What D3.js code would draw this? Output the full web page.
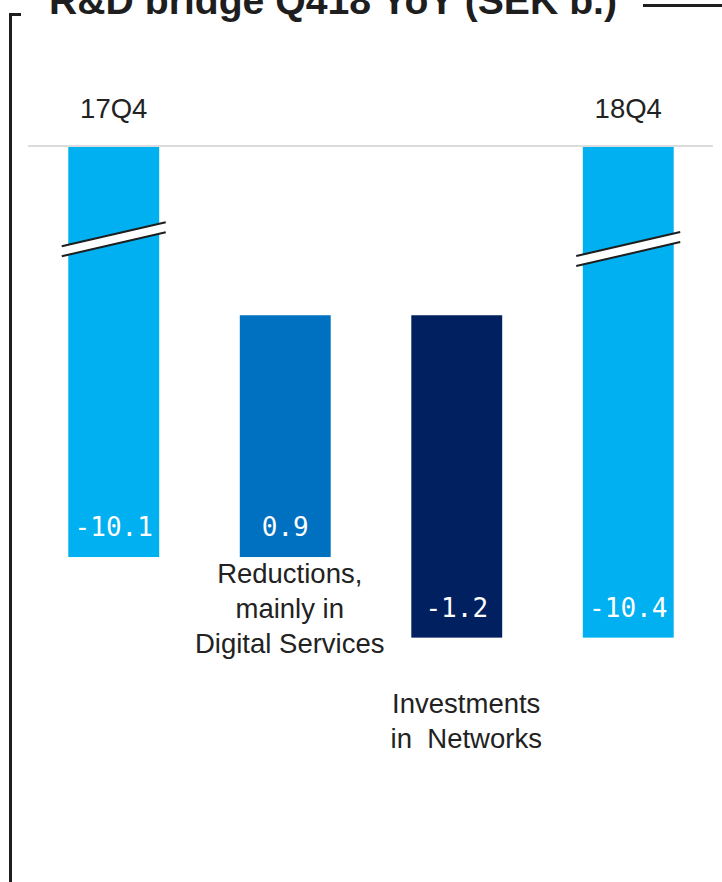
<!DOCTYPE html>
<html>
<head>
<meta charset="utf-8">
<script src="https://cdn.jsdelivr.net/npm/d3@7"></script>
<style>
  html, body { margin: 0; padding: 0; background: #ffffff; }
  svg { display: block; }
  text { white-space: pre; }
</style>
</head>
<body>
<script>
// ---------------- data ----------------
const title = "R&D bridge Q418 YoY (SEK b.)";
const categories = ["17Q4", "Reductions", "Investments", "18Q4"];
const values = [-10.1, 0.9, -1.2, -10.4];
const valueLabels = ["-10.1", "0.9", "-1.2", "-10.4"];
const barTypes = ["total", "delta", "delta", "total"];
const categoryLines = [
  ["17Q4"],
  ["Reductions,", "mainly in", "Digital Services"],
  ["Investments", "in  Networks"],
  ["18Q4"]
];
const barColors = ["#00b0f0", "#0070c0", "#002060", "#00b0f0"];

// ---------------- layout ----------------
const W = 722, H = 882;
const gridY = 146;
const ink = "#1e1e1e";

const svg = d3.select("body").append("svg")
  .attr("width", W).attr("height", H)
  .attr("viewBox", `0 0 ${W} ${H}`);

svg.append("rect").attr("width", W).attr("height", H).attr("fill", "#fff");

// waterfall computation
let running = 0;
const bars = values.map((v, i) => {
  let start, end;
  if (barTypes[i] === "total") { start = null; end = v; running = v; }
  else { start = running; end = running + v; running = end; }
  return { cat: categories[i], v, start, end, type: barTypes[i], color: barColors[i],
           label: valueLabels[i], lines: categoryLines[i] };
});

const x = d3.scaleBand()
  .domain(categories)
  .range([28, 714])
  .paddingInner(0.47)
  .paddingOuter(0.235);

// broken value axis: only the visible part of the range is mapped
const y = d3.scaleLinear()
  .domain([-8.57, -10.42])
  .range([gridY, 643]);

// frame
svg.append("path")
  .attr("d", `M21,14.5 H10.5 V${H}`)
  .attr("fill", "none").attr("stroke", ink).attr("stroke-width", 3);
svg.append("line")
  .attr("x1", 643).attr("x2", W).attr("y1", 5.5).attr("y2", 5.5)
  .attr("stroke", ink).attr("stroke-width", 3);

// title
svg.append("text")
  .attr("x", 49).attr("y", 14)
  .attr("font-family", "Liberation Sans, Arial, sans-serif")
  .attr("font-weight", "bold")
  .attr("font-size", 39)
  .attr("textLength", 568)
  .attr("lengthAdjust", "spacingAndGlyphs")
  .attr("fill", ink)
  .text(title);

// gridline
svg.append("line")
  .attr("x1", 28).attr("x2", 713).attr("y1", gridY).attr("y2", gridY)
  .attr("stroke", "#dcdcdc").attr("stroke-width", 2);

// bars
const g = svg.append("g");
bars.forEach(b => {
  let top, bottom;
  if (b.type === "total") { top = gridY + 1; bottom = y(b.end); }
  else { top = y(Math.max(b.start, b.end)); bottom = y(Math.min(b.start, b.end)); }
  b.top = top; b.bottom = bottom;
  g.append("rect")
    .attr("x", x(b.cat)).attr("width", x.bandwidth())
    .attr("y", top).attr("height", bottom - top)
    .attr("fill", b.color);

  // value label inside near bottom
  g.append("text")
    .attr("x", x(b.cat) + x.bandwidth() / 2)
    .attr("y", bottom - 21)
    .attr("text-anchor", "middle")
    .attr("font-family", "DejaVu Sans Mono, monospace")
    .attr("font-size", 26)
    .attr("fill", "#fff")
    .text(b.label);
});

// axis break marks on total bars
bars.filter(b => b.type === "total").forEach((b, k) => {
  const cx = x(b.cat) + x.bandwidth() / 2;
  const frac = [0.225, 0.208][k];
  const cy = b.top + (b.bottom - b.top) * frac;
  const hw = 52, dy = 12, gap = 5;
  const bg = g.append("g");
  bg.append("path")
    .attr("d", `M${cx - hw},${cy + dy - gap} L${cx + hw},${cy - dy - gap} L${cx + hw},${cy - dy + gap} L${cx - hw},${cy + dy + gap} Z`)
    .attr("fill", "#fff");
  [-gap, gap].forEach(o => {
    bg.append("line")
      .attr("x1", cx - hw).attr("y1", cy + dy + o)
      .attr("x2", cx + hw).attr("y2", cy - dy + o)
      .attr("stroke", ink).attr("stroke-width", 2);
  });
});

// category labels
const labelFont = "Liberation Sans, Arial, sans-serif";
const labelDx = { "17Q4": 0, "Reductions": 4.5, "Investments": 9.5, "18Q4": 0 };
bars.forEach(b => {
  const cx = x(b.cat) + x.bandwidth() / 2 + labelDx[b.cat];
  let y0;
  if (b.type === "total") y0 = gridY - 28;
  else if (b.cat === "Reductions") y0 = b.bottom + 26;
  else y0 = b.bottom + 75;
  const t = svg.append("text")
    .attr("text-anchor", "middle")
    .attr("font-family", labelFont)
    .attr("font-size", 27.5)
    .attr("fill", "#222");
  b.lines.forEach((ln, i) => {
    t.append("tspan").attr("x", cx).attr("y", y0 + i * 35).text(ln);
  });
});
</script>
</body>
</html>
